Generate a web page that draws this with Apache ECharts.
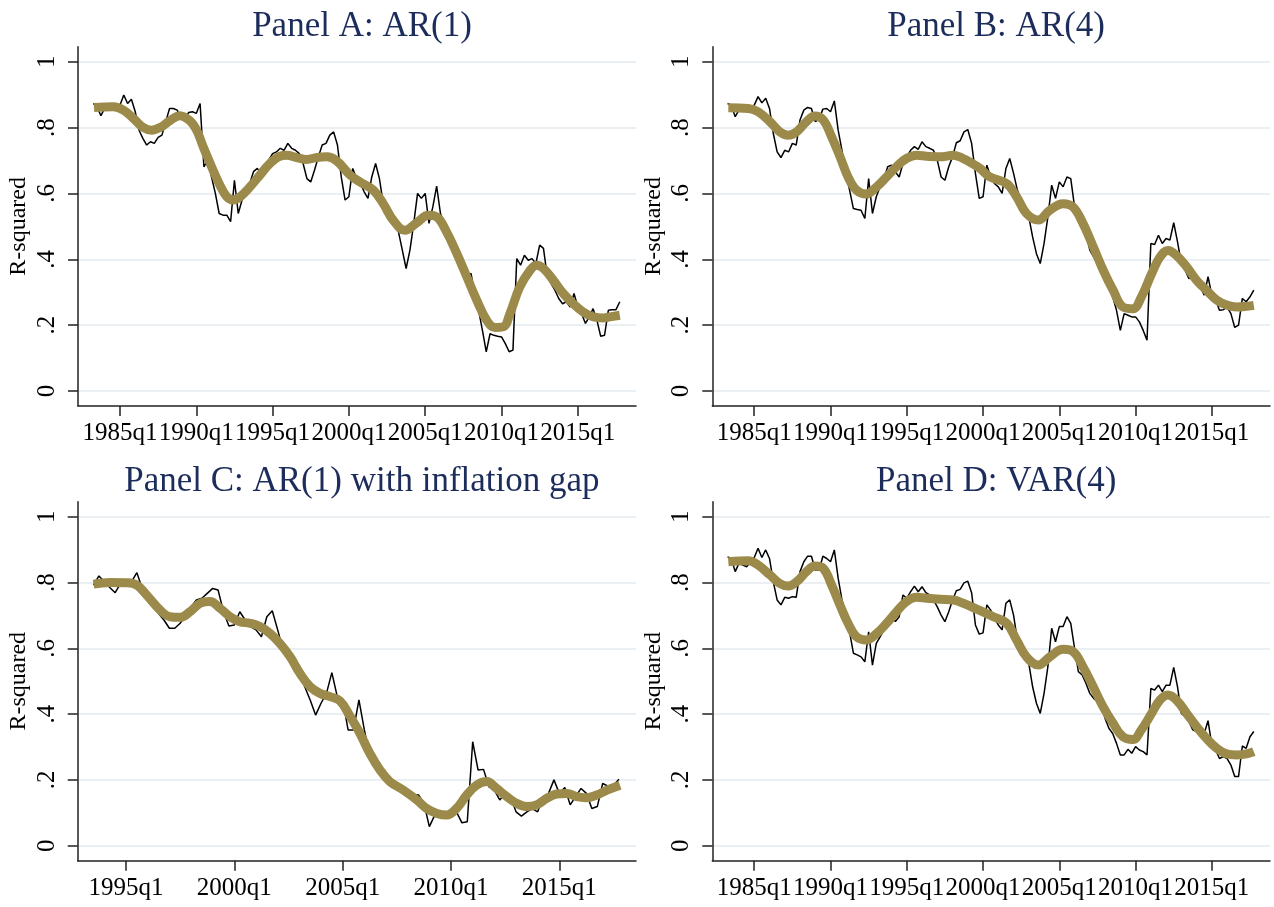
<!DOCTYPE html>
<html>
<head>
<meta charset="utf-8">
<script src="https://cdn.jsdelivr.net/npm/echarts@6/dist/echarts.min.js"></script>
<style>
html,body{margin:0;padding:0;background:#fff;}
#chart{width:1274px;height:907px;}
</style>
</head>
<body>
<div id="chart"></div>
<script>
// ---------- DATA ----------
// quarters are Stata quarterly index (1960q1 = 0, 1985q1 = 100)
var panelTitles = ['Panel A: AR(1)', 'Panel B: AR(4)', 'Panel C: AR(1) with inflation gap', 'Panel D: VAR(4)'];

var xTicksABD = [100, 120, 140, 160, 180, 200, 220];
var xLabelsABD = ['1985q1', '1990q1', '1995q1', '2000q1', '2005q1', '2010q1', '2015q1'];
var xTicksC = [140, 160, 180, 200, 220];
var xLabelsC = ['1995q1', '2000q1', '2005q1', '2010q1', '2015q1'];
var yTicks = [0, 0.2, 0.4, 0.6, 0.8, 1];
var yLabels = ['0', '.2', '.4', '.6', '.8', '1'];

var startABD = 93;  // 1983q2
var startC = 134;   // 1993q3

var rawA = [
 .873,.863,.836,.858,.861,.863,.868,.868,.899,.873,
 .886,.848,.792,.767,.747,.757,.752,.770,.777,.818,
 .858,.858,.853,.828,.823,.846,.848,.843,.873,.681,
 .701,.650,.600,.539,.534,.534,.514,.640,.539,.580,
 .600,.630,.666,.676,.661,.686,.701,.721,.726,.737,
 .731,.752,.737,.731,.721,.691,.645,.635,.671,.711,
 .747,.752,.777,.787,.747,.650,.580,.590,.676,.645,
 .630,.605,.585,.650,.691,.645,.569,.539,.519,.509,
 .483,.428,.372,.428,.509,.600,.585,.600,.509,.559,
 .622,.539,.509,.478,.448,.417,.387,.367,.347,.357,
 .296,.245,.184,.119,.174,.169,.166,.164,.144,.119,
 .124,.402,.382,.412,.397,.402,.387,.443,.433,.347,
 .326,.306,.281,.265,.271,.255,.296,.255,.235,.205,
 .225,.250,.215,.166,.169,.245,.247,.247,.271
];
var smoothA = [
 [93.2,.861],[98.3,.863],[100.9,.853],[103.5,.828],[106.1,.800],[108.3,.792],[110.5,.800],
 [113.1,.821],[115.7,.836],[118.3,.821],[120.1,.792],[121.8,.742],[124.0,.681],[126.2,.625],
 [128.0,.590],[129.7,.580],[131.5,.590],[134.1,.620],[136.7,.656],[139.3,.691],[141.9,.713],
 [143.7,.716],[146.3,.709],[148.9,.703],[151.6,.709],[154.2,.711],[156.8,.699],[160.3,.656],
 [162.9,.635],[166.4,.610],[169.0,.569],[171.6,.519],[174.7,.488],[177.8,.511],[180.8,.534],
 [183.0,.529],[185.6,.483],[188.3,.417],[190.9,.347],[193.5,.276],[196.1,.215],[198.3,.193],
 [200.5,.195],[202.2,.235],[204.8,.316],[207.5,.367],[209.2,.382],[211.0,.372],[213.6,.336],
 [216.2,.296],[218.8,.265],[221.4,.240],[224.1,.225],[226.7,.222],[228.4,.225],[231.0,.230]
];

var rawB = [
 .873,.868,.833,.853,.858,.848,.858,.868,.894,.875,
 .889,.858,.782,.726,.709,.731,.726,.752,.747,.823,
 .853,.861,.858,.818,.825,.856,.858,.848,.881,.792,
 .731,.661,.610,.554,.551,.549,.524,.645,.539,.590,
 .620,.645,.681,.686,.666,.650,.691,.711,.731,.742,
 .734,.757,.742,.737,.731,.701,.650,.640,.681,.711,
 .754,.760,.787,.794,.752,.661,.585,.590,.686,.650,
 .630,.620,.600,.676,.706,.661,.610,.580,.549,.529,
 .468,.417,.387,.448,.529,.625,.585,.635,.620,.650,
 .645,.559,.529,.509,.478,.428,.407,.387,.367,.377,
 .326,.286,.245,.184,.235,.230,.225,.225,.210,.184,
 .154,.448,.445,.473,.448,.463,.458,.511,.453,.387,
 .367,.341,.347,.326,.316,.291,.347,.291,.276,.245,
 .247,.255,.235,.193,.200,.281,.271,.286,.306
];
var smoothB = [
 [93.2,.860],[98.4,.858],[101.0,.848],[104.1,.818],[106.7,.787],[108.9,.777],[111.1,.787],
 [113.7,.818],[115.9,.835],[118.1,.823],[120.3,.772],[122.5,.711],[124.6,.650],[126.8,.610],
 [129.4,.598],[132.1,.620],[134.7,.650],[137.3,.681],[139.9,.706],[142.6,.716],[145.2,.713],
 [148.7,.711],[152.2,.716],[154.8,.706],[157.0,.692],[159.2,.676],[161.8,.650],[166.2,.630],
 [168.8,.590],[171.4,.539],[174.5,.519],[177.5,.549],[181.0,.569],[183.6,.559],[186.2,.509],
 [188.9,.438],[191.5,.367],[194.1,.306],[196.7,.255],[199.3,.250],[201.5,.285],[204.2,.356],
 [206.4,.407],[208.5,.427],[210.7,.412],[213.4,.377],[216.0,.336],[218.6,.306],[221.3,.276],
 [223.9,.261],[226.5,.255],[229.1,.257],[231.0,.260]
];

var rawC = [
 .792,.820,.802,.785,.769,.797,.799,.802,.830,.782,
 .757,.731,.706,.686,.661,.661,.676,.701,.726,.747,
 .752,.767,.782,.777,.711,.668,.671,.711,.686,.666,
 .656,.635,.696,.714,.656,.595,.574,.554,.524,.483,
 .443,.397,.433,.463,.526,.453,.443,.352,.352,.443,
 .352,.271,.245,.225,.205,.184,.179,.169,.161,.156,
 .154,.129,.058,.093,.098,.093,.098,.103,.070,.073,
 .316,.230,.232,.179,.169,.139,.159,.149,.103,.090,
 .103,.113,.103,.149,.159,.200,.159,.177,.124,.149,
 .174,.159,.113,.119,.189,.181,.184,.202
];
var smoothC = [
 [134.0,.795],[137.0,.800],[140.1,.799],[142.0,.792],[143.8,.762],[146.3,.716],[148.1,.696],
 [150.0,.694],[151.8,.711],[153.7,.737],[155.5,.742],[157.4,.721],[159.2,.696],[161.0,.681],
 [162.9,.676],[164.7,.666],[166.6,.645],[168.4,.615],[170.3,.574],[172.1,.524],[174.0,.483],
 [175.8,.463],[177.7,.453],[179.5,.440],[181.4,.392],[183.2,.341],[185.0,.281],[186.9,.230],
 [188.7,.195],[191.2,.169],[193.7,.139],[195.5,.113],[197.4,.098],[199.2,.093],[201.0,.113],
 [202.9,.154],[204.7,.184],[206.6,.195],[208.4,.174],[210.3,.149],[212.1,.129],[214.0,.119],
 [215.8,.124],[217.7,.144],[219.5,.157],[221.4,.159],[223.2,.149],[225.0,.146],[226.9,.154],
 [228.8,.169],[231.2,.184]
];

var rawD = [
 .878,.873,.833,.858,.853,.848,.863,.876,.904,.876,
 .899,.873,.802,.747,.732,.755,.752,.757,.755,.833,
 .863,.880,.880,.838,.838,.880,.873,.863,.899,.813,
 .747,.706,.650,.585,.580,.574,.559,.650,.549,.615,
 .635,.656,.696,.701,.681,.696,.762,.752,.772,.789,
 .772,.787,.769,.762,.747,.726,.701,.681,.711,.747,
 .775,.779,.799,.804,.769,.671,.643,.647,.732,.716,
 .691,.671,.656,.737,.747,.701,.625,.585,.564,.554,
 .483,.433,.402,.463,.544,.661,.620,.666,.666,.696,
 .676,.600,.529,.519,.493,.463,.448,.438,.422,.387,
 .357,.341,.311,.276,.276,.293,.281,.301,.291,.286,
 .276,.478,.473,.488,.468,.488,.488,.542,.483,.402,
 .392,.377,.352,.347,.341,.341,.380,.306,.291,.265,
 .271,.265,.245,.210,.210,.303,.296,.331,.347
];
var smoothD = [
 [93.2,.863],[98.4,.866],[101.0,.853],[104.1,.823],[106.7,.797],[108.9,.789],[111.1,.802],
 [113.7,.833],[115.9,.850],[118.1,.843],[120.3,.792],[122.5,.731],[124.6,.676],[126.8,.635],
 [129.4,.625],[132.1,.645],[134.7,.676],[137.3,.711],[139.9,.742],[142.6,.755],[145.2,.752],
 [148.7,.749],[152.2,.747],[154.8,.737],[157.4,.724],[160.0,.711],[162.7,.696],[166.2,.676],
 [168.8,.625],[171.4,.574],[174.5,.549],[177.5,.574],[181.0,.597],[183.6,.590],[186.2,.544],
 [188.9,.483],[191.5,.422],[194.1,.372],[196.7,.331],[199.3,.323],[201.5,.352],[204.2,.402],
 [206.4,.443],[208.5,.458],[210.7,.443],[213.4,.402],[216.0,.362],[218.6,.326],[221.3,.296],
 [223.9,.279],[226.5,.276],[229.1,.279],[231.0,.286]
];

// ---------- BUILD ----------
function pairs(start, vals) { return vals.map(function (v, i) { return [start + i, v]; }); }

var FONT = 'Liberation Serif, Times New Roman, serif';
var TITLE_COLOR = '#1c2c5b';
var OLIVE = '#9c8a4b';
var GRID_COLOR = '#e9eff2';
var AXIS_COLOR = '#222';

var panels = [
  {raw: pairs(startABD, rawA), smooth: smoothA, ticks: xTicksABD, labels: xLabelsABD, xmin: 89, xmax: 235.25},
  {raw: pairs(startABD, rawB), smooth: smoothB, ticks: xTicksABD, labels: xLabelsABD, xmin: 89, xmax: 235.25},
  {raw: pairs(startC, rawC), smooth: smoothC, ticks: xTicksC, labels: xLabelsC, xmin: 131.08, xmax: 234.15},
  {raw: pairs(startABD, rawD), smooth: smoothD, ticks: xTicksABD, labels: xLabelsABD, xmin: 89, xmax: 235.25}
];
var layout = [
  {left: 78, top: 46.7, width: 558, height: 359.3},
  {left: 712.3, top: 46.7, width: 557.7, height: 359.3},
  {left: 77.7, top: 501.7, width: 558.3, height: 359},
  {left: 712.3, top: 501.7, width: 557.7, height: 359}
];

var option = {backgroundColor: '#fff', animation: false, title: [], grid: [], xAxis: [], yAxis: [], series: []};

panels.forEach(function (p, i) {
  var L = layout[i];
  option.title.push({
    text: panelTitles[i], left: L.left + L.width / 2, top: L.top - 42, textAlign: 'center',
    textStyle: {fontFamily: FONT, fontSize: 35, fontWeight: 'normal', color: TITLE_COLOR}
  });
  option.grid.push({left: L.left, top: L.top, width: L.width, height: L.height, containLabel: false});
  option.xAxis.push({
    type: 'value', gridIndex: i, min: p.xmin, max: p.xmax,
    axisLine: {onZero: false, lineStyle: {color: AXIS_COLOR, width: 1.5}},
    axisTick: {show: true, length: 10, customValues: p.ticks, lineStyle: {color: AXIS_COLOR, width: 1.5}},
    axisLabel: {customValues: p.ticks, margin: 15, fontFamily: FONT, fontSize: 25, color: '#000',
      formatter: (function (t, l) { return function (v) { var k = t.indexOf(Math.round(v)); return k >= 0 ? l[k] : ''; }; })(p.ticks, p.labels)},
    splitLine: {show: false}
  });
  option.yAxis.push({
    type: 'value', gridIndex: i, min: -0.0456, max: 1.0456,
    name: 'R-squared', nameLocation: 'middle', nameRotate: 90, nameGap: 47,
    nameTextStyle: {fontFamily: FONT, fontSize: 24, color: '#000'},
    axisLine: {onZero: false, lineStyle: {color: AXIS_COLOR, width: 1.5}},
    axisTick: {show: true, length: 10, customValues: yTicks, lineStyle: {color: AXIS_COLOR, width: 1.5}},
    axisLabel: {customValues: yTicks, rotate: 90, margin: 18, fontFamily: FONT, fontSize: 25, color: '#000',
      formatter: function (v) { var k = yTicks.indexOf(Math.round(v * 10) / 10); return k >= 0 ? yLabels[k] : ''; }},
    splitLine: {show: true, lineStyle: {color: GRID_COLOR, width: 1.8}}
  });
  option.series.push({
    type: 'line', xAxisIndex: i, yAxisIndex: i, data: p.raw, showSymbol: false, symbol: 'none',
    lineStyle: {color: '#000', width: 1.5}, z: 2
  });
  option.series.push({
    type: 'line', xAxisIndex: i, yAxisIndex: i, data: p.smooth, showSymbol: false, symbol: 'none',
    smooth: 0.4, lineStyle: {color: OLIVE, width: 9, cap: 'butt'}, z: 3
  });
});

var chart = echarts.init(document.getElementById('chart'));
chart.setOption(option);
</script>
</body>
</html>
